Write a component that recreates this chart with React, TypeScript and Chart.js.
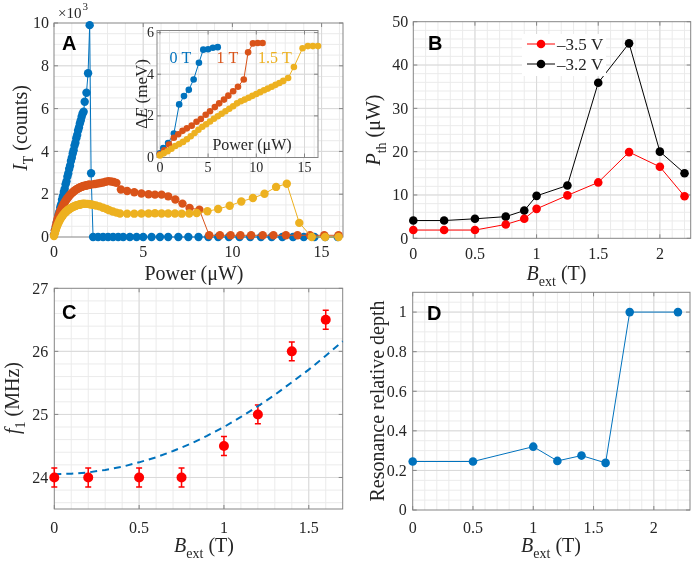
import React, { useEffect, useRef } from 'react';
import { Chart, registerables } from 'chart.js';

Chart.register(...registerables);

const SERIF = '"Liberation Serif", "Times New Roman", serif';
const SANS = '"Liberation Sans", Arial, sans-serif';
const TEXT = '#262626';
const BOX = '#858585';
const GRID_MAJOR = '#d9d9d9';
const GRID_MINOR = '#ebebeb';
const BLUE = '#0072BD';
const ORANGE = '#D95319';
const YELLOW = '#EDB120';
const RED = '#FF0000';

type Pt = [number, number];

// ---- Panel A: transmitted intensity (10^3 counts) vs power (uW) ----
const intensity0T: Pt[] = [
  [0, 0.1], [0.05, 0.3], [0.1, 0.45], [0.15, 0.66], [0.2, 0.8], [0.25, 1.02], [0.3, 1.17], [0.35, 1.38],
  [0.4, 1.52], [0.45, 1.74], [0.5, 1.9], [0.55, 2.1], [0.6, 2.25], [0.65, 2.46], [0.7, 2.6], [0.75, 2.82],
  [0.8, 2.97], [0.85, 3.18], [0.9, 3.33], [0.95, 3.55], [1.0, 3.7], [1.05, 3.9], [1.1, 4.05], [1.15, 4.27],
  [1.2, 4.41], [1.25, 4.62], [1.3, 4.77], [1.35, 4.98], [1.4, 5.12], [1.45, 5.3], [1.5, 5.44], [1.55, 5.62],
  [1.6, 5.76], [1.66, 5.85], [1.72, 6.32], [1.82, 6.74], [1.91, 7.65], [2.0, 9.9], [2.08, 2.98],
  [2.19, 0], [2.47, 0], [2.75, 0], [3.03, 0], [3.31, 0], [3.6, 0], [3.88, 0], [4.25, 0], [4.63, 0],
  [5.0, 0], [5.47, 0], [5.94, 0], [6.4, 0], [6.97, 0], [7.53, 0], [8.1, 0], [8.65, 0], [9.2, 0],
  [9.8, 0], [10.4, 0], [11.0, 0], [11.6, 0], [12.2, 0], [12.8, 0], [13.4, 0], [14.0, 0], [14.6, 0],
  [15.2, 0], [15.9, 0],
];
const intensity1T: Pt[] = [
  [0, 0.1], [0.05, 0.3], [0.1, 0.5], [0.15, 0.68], [0.2, 0.84], [0.25, 0.97], [0.3, 1.1], [0.35, 1.2],
  [0.4, 1.3], [0.45, 1.39], [0.5, 1.47], [0.55, 1.55], [0.6, 1.62], [0.65, 1.69], [0.7, 1.75], [0.75, 1.81],
  [0.8, 1.87], [0.85, 1.92], [0.9, 1.97], [0.95, 2.01], [1.0, 2.05], [1.05, 2.09], [1.1, 2.13], [1.15, 2.16],
  [1.2, 2.19], [1.25, 2.22], [1.3, 2.25], [1.35, 2.27], [1.4, 2.29], [1.45, 2.31], [1.5, 2.33], [1.55, 2.35],
  [1.6, 2.36], [1.65, 2.38], [1.7, 2.39], [1.75, 2.4], [1.8, 2.41], [1.85, 2.42], [1.9, 2.43], [1.95, 2.44],
  [2.0, 2.44], [2.15, 2.46], [2.3, 2.48], [2.45, 2.5], [2.6, 2.52], [2.75, 2.55], [2.9, 2.58], [3.05, 2.61],
  [3.2, 2.59], [3.35, 2.57], [3.5, 2.53], [3.75, 2.22], [4.1, 2.15], [4.5, 2.09], [4.9, 2.03], [5.3, 2.0],
  [5.66, 1.98], [6.03, 1.98], [6.4, 1.9], [6.8, 1.75], [7.2, 1.56], [7.6, 1.36], [8.15, 1.27],
  [8.7, 0.08], [9.3, 0.08], [9.9, 0.08], [10.45, 0.08], [11.05, 0.08], [11.7, 0.08], [12.3, 0.08],
  [13.0, 0.08], [13.65, 0.08], [14.35, 0.08], [15.15, 0.08], [15.95, 0.08],
];
const intensity15T: Pt[] = [
  [0, 0.05], [0.05, 0.18], [0.1, 0.32], [0.15, 0.45], [0.2, 0.56], [0.25, 0.66], [0.3, 0.75], [0.35, 0.83],
  [0.4, 0.9], [0.45, 0.96], [0.5, 1.02], [0.55, 1.07], [0.6, 1.12], [0.65, 1.16], [0.7, 1.2], [0.75, 1.24],
  [0.8, 1.27], [0.85, 1.3], [0.9, 1.33], [0.95, 1.36], [1.0, 1.38], [1.05, 1.4], [1.1, 1.42], [1.15, 1.44],
  [1.2, 1.46], [1.25, 1.47], [1.3, 1.49], [1.35, 1.5], [1.4, 1.51], [1.45, 1.52], [1.5, 1.53], [1.55, 1.54],
  [1.6, 1.55], [1.65, 1.55], [1.7, 1.56], [1.8, 1.55], [1.9, 1.55], [2.0, 1.53], [2.1, 1.52], [2.2, 1.5],
  [2.35, 1.47], [2.55, 1.43], [2.75, 1.37], [2.95, 1.31], [3.1, 1.25], [3.3, 1.19], [3.5, 1.14], [3.7, 1.1],
  [4.1, 1.09], [4.5, 1.09], [4.9, 1.1], [5.3, 1.1], [5.66, 1.11], [6.03, 1.1], [6.4, 1.1], [6.78, 1.1],
  [7.16, 1.09], [7.58, 1.1], [8.0, 1.12], [8.6, 1.2], [9.2, 1.31], [9.85, 1.46], [10.5, 1.66], [11.15, 1.82],
  [11.8, 2.02], [12.45, 2.34], [13.05, 2.49], [13.75, 0.66], [14.45, 0], [15.2, 0], [15.95, 0],
];

// ---- Panel A inset: splitting (meV) vs power (uW) ----
const splitting0T: Pt[] = [
  [0, 0.2], [0.35, 0.45], [0.85, 0.7], [1.45, 1.15], [2.0, 2.55], [2.5, 2.95], [3.0, 3.25], [3.5, 3.75],
  [4.05, 4.55], [4.5, 5.18], [5.0, 5.2], [5.5, 5.27], [6.0, 5.3],
];
const splitting1T: Pt[] = [
  [0, 0.15], [0.45, 0.35], [0.95, 0.62], [1.45, 0.95], [1.9, 1.12], [2.35, 1.28], [2.8, 1.4], [3.3, 1.53],
  [3.8, 1.72], [4.25, 1.85], [4.75, 2.05], [5.2, 2.22], [5.7, 2.42], [6.15, 2.6], [6.65, 2.78], [7.1, 2.97],
  [7.6, 3.18], [8.1, 3.4], [8.7, 3.75], [9.15, 5.05], [9.65, 5.48], [10.15, 5.5], [10.65, 5.5],
];
const splitting15T: Pt[] = [
  [0, 0.1], [0.4, 0.2], [0.8, 0.3], [1.2, 0.42], [1.6, 0.55], [2.0, 0.65], [2.4, 0.75], [2.8, 0.88],
  [3.2, 1.02], [3.6, 1.18], [4.0, 1.33], [4.4, 1.48], [4.8, 1.6], [5.2, 1.73], [5.6, 1.86], [6.0, 1.98],
  [6.4, 2.1], [6.8, 2.22], [7.2, 2.34], [7.6, 2.46], [8.0, 2.6], [8.4, 2.7], [8.8, 2.78], [9.2, 2.87],
  [9.6, 2.96], [10.0, 3.05], [10.4, 3.14], [10.8, 3.23], [11.2, 3.31], [11.6, 3.4], [12.0, 3.49],
  [12.4, 3.58], [12.8, 3.68], [13.3, 3.82], [13.9, 4.35], [14.8, 5.25], [15.35, 5.35], [15.87, 5.35],
  [16.4, 5.35],
];

// ---- Panel B: threshold power vs field ----
const fieldB = [0, 0.25, 0.5, 0.75, 0.9, 1.0, 1.25, 1.5, 1.75, 2.0, 2.2];
const thresholdMinus35 = [1.9, 1.9, 1.9, 3.2, 4.5, 6.8, 9.9, 12.9, 19.9, 16.5, 9.7];
const thresholdMinus32 = [4.1, 4.1, 4.5, 5.0, 6.4, 9.8, 12.2, 35.9, 45, 20, 15];
const legendB = ['–3.5 V', '–3.2 V'];

// ---- Panel C: mechanical frequency vs field ----
const fieldC = [0, 0.2, 0.5, 0.75, 1.0, 1.2, 1.4, 1.6];
const freqC = [24, 24, 24, 24, 24.5, 25, 26, 26.5];
const freqErrC = [0.15, 0.15, 0.15, 0.15, 0.15, 0.15, 0.15, 0.15];
const fitField = [0, 0.1, 0.2, 0.3, 0.4, 0.5, 0.6, 0.7, 0.8, 0.9, 1.0, 1.1, 1.2, 1.3, 1.4, 1.5, 1.6, 1.7];
const fitFreq = [24.05, 24.06, 24.08, 24.12, 24.17, 24.24, 24.32, 24.42, 24.53, 24.66, 24.8, 24.96, 25.13,
  25.31, 25.51, 25.71, 25.93, 26.16];

// ---- Panel D: resonance depth vs field ----
const fieldD = [0, 0.5, 1.0, 1.2, 1.4, 1.6, 1.8, 2.2];
const depthD = [0.245, 0.245, 0.32, 0.248, 0.275, 0.238, 1, 1];

// ---- tick labels ----
const ticksAx = [0, 5, 10, 15];
const ticksAy = [0, 2, 4, 6, 8, 10];
const ticksInsetX = [0, 5, 10, 15];
const ticksInsetY = [0, 2, 4, 6];
const ticksBx = [0, 0.5, 1, 1.5, 2];
const ticksBy = [0, 10, 20, 30, 40, 50];
const ticksCx = [0, 0.5, 1, 1.5];
const ticksCy = [24, 25, 26, 27];
const ticksDx = [0, 0.5, 1, 1.5, 2];
const ticksDy = [0, 0.2, 0.4, 0.6, 0.8, 1];

function steps(from: number, to: number, step: number): number[] {
  const out: number[] = [];
  for (let i = 0; ; i++) {
    const v = +(from + i * step).toFixed(6);
    if (v > to + 1e-9) break;
    out.push(v);
  }
  return out;
}

const pairs = (p: Pt[]) => p.map(([x, y]) => ({ x, y }));
const zip = (xs: number[], ys: number[]) => xs.map((x, i) => ({ x, y: ys[i] }));

type Run = { t: string; it?: boolean; sub?: boolean; sup?: boolean };

function drawRuns(ctx: CanvasRenderingContext2D, runs: Run[], cx: number, cy: number, size: number,
  vertical = false, color = TEXT) {
  const small = Math.round(size * 0.7);
  const fontOf = (r: Run) => `${r.it ? 'italic ' : ''}${r.sub || r.sup ? small : size}px ${SERIF}`;
  let total = 0;
  const widths = runs.map((r) => {
    ctx.font = fontOf(r);
    const w = ctx.measureText(r.t).width;
    total += w;
    return w;
  });
  ctx.save();
  ctx.translate(cx, cy);
  if (vertical) ctx.rotate(-Math.PI / 2);
  ctx.fillStyle = color;
  ctx.textAlign = 'left';
  ctx.textBaseline = 'alphabetic';
  const base = size * 0.33;
  let x = -total / 2;
  runs.forEach((r, i) => {
    ctx.font = fontOf(r);
    const dy = r.sub ? size * 0.3 : r.sup ? -size * 0.45 : 0;
    ctx.fillText(r.t, x, base + dy);
    x += widths[i];
  });
  ctx.restore();
}

function panelLetter(ctx: CanvasRenderingContext2D, s: string, x: number, y: number) {
  ctx.save();
  ctx.font = `bold 20px ${SANS}`;
  ctx.fillStyle = '#000';
  ctx.textAlign = 'left';
  ctx.textBaseline = 'alphabetic';
  ctx.fillText(s, x, y);
  ctx.restore();
}

// pad: x axis -> baseline distance below the plot; y axis -> gap left of the plot
interface AxisSpec { min: number; max: number; major: number[]; minor: number[]; pad: number }
interface PanelSpec {
  width: number;
  height: number;
  area: { left: number; top: number; right: number; bottom: number };
  x: AxisSpec;
  y: AxisSpec;
  tickSize: number;
  fill?: boolean;
  datasets: any[];
  under?: (ctx: CanvasRenderingContext2D, chart: any) => void;
  over?: (ctx: CanvasRenderingContext2D, chart: any) => void;
}

function framePlugin(spec: PanelSpec) {
  const TL = 4;
  return {
    id: 'frame',
    beforeDatasetsDraw(chart: any) {
      const { ctx, chartArea: a } = chart;
      const sx = chart.scales.x;
      const sy = chart.scales.y;
      ctx.save();
      if (spec.fill) {
        ctx.fillStyle = '#ffffff';
        ctx.fillRect(a.left, a.top, a.right - a.left, a.bottom - a.top);
      }
      ctx.lineWidth = 1;
      const vlines = (vals: number[], color: string) => {
        ctx.strokeStyle = color;
        ctx.beginPath();
        vals.forEach((v) => {
          const p = sx.getPixelForValue(v);
          if (p <= a.left + 0.5 || p >= a.right - 0.5) return;
          ctx.moveTo(p, a.top);
          ctx.lineTo(p, a.bottom);
        });
        ctx.stroke();
      };
      const hlines = (vals: number[], color: string) => {
        ctx.strokeStyle = color;
        ctx.beginPath();
        vals.forEach((v) => {
          const p = sy.getPixelForValue(v);
          if (p <= a.top + 0.5 || p >= a.bottom - 0.5) return;
          ctx.moveTo(a.left, p);
          ctx.lineTo(a.right, p);
        });
        ctx.stroke();
      };
      vlines(spec.x.minor, GRID_MINOR);
      hlines(spec.y.minor, GRID_MINOR);
      vlines(spec.x.major, GRID_MAJOR);
      hlines(spec.y.major, GRID_MAJOR);
      ctx.strokeStyle = BOX;
      ctx.strokeRect(a.left, a.top, a.right - a.left, a.bottom - a.top);
      ctx.beginPath();
      spec.x.major.forEach((v) => {
        const p = sx.getPixelForValue(v);
        ctx.moveTo(p, a.bottom); ctx.lineTo(p, a.bottom - TL);
        ctx.moveTo(p, a.top); ctx.lineTo(p, a.top + TL);
      });
      spec.y.major.forEach((v) => {
        const p = sy.getPixelForValue(v);
        ctx.moveTo(a.left, p); ctx.lineTo(a.left + TL, p);
        ctx.moveTo(a.right, p); ctx.lineTo(a.right - TL, p);
      });
      ctx.stroke();
      if (spec.under) spec.under(ctx, chart);
      ctx.restore();
    },
    afterDraw(chart: any) {
      const { ctx, chartArea: a } = chart;
      const sx = chart.scales.x;
      const sy = chart.scales.y;
      ctx.save();
      // tick labels from the scales' own ticks
      ctx.font = `${spec.tickSize}px ${SERIF}`;
      ctx.fillStyle = TEXT;
      ctx.textBaseline = 'alphabetic';
      ctx.textAlign = 'center';
      sx.ticks.forEach((t: any, i: number) => {
        ctx.fillText(String(t.value), sx.getPixelForTick(i), a.bottom + spec.x.pad);
      });
      ctx.textAlign = 'right';
      sy.ticks.forEach((t: any, i: number) => {
        ctx.fillText(String(t.value), a.left - spec.y.pad, sy.getPixelForTick(i) + spec.tickSize * 0.33);
      });
      if (spec.over) spec.over(ctx, chart);
      ctx.restore();
    },
  };
}

function makeChart(canvas: HTMLCanvasElement, spec: PanelSpec) {
  const { area, width, height } = spec;
  const scale = (ax: AxisSpec, horizontal: boolean) => ({
    type: 'linear',
    min: ax.min,
    max: ax.max,
    afterBuildTicks: (s: any) => { s.ticks = ax.major.map((v) => ({ value: v })); },
    afterFit: (s: any) => {
      if (horizontal) s.height = height - area.bottom;
      else s.width = area.left;
    },
    grid: { display: false, drawTicks: false },
    border: { display: false },
    ticks: { display: false },
  });
  return new Chart(canvas, {
    type: 'scatter',
    data: { datasets: spec.datasets },
    options: {
      animation: false,
      responsive: false,
      maintainAspectRatio: false,
      devicePixelRatio: 1,
      events: [],
      layout: { padding: { left: 0, top: area.top, right: width - area.right, bottom: 0 } },
      plugins: { legend: { display: false }, tooltip: { enabled: false } },
      scales: { x: scale(spec.x, true) as any, y: scale(spec.y, false) as any },
    } as any,
    plugins: [framePlugin(spec) as any],
  });
}

const series = (data: any[], color: string, radius: number, order: number, extra: any = {}) => ({
  data,
  showLine: true,
  borderColor: color,
  backgroundColor: color,
  borderWidth: 1,
  pointRadius: radius,
  pointBorderWidth: 0,
  pointBackgroundColor: color,
  clip: false,
  order,
  ...extra,
});

// Canvas placements on the page
const BOX_A = { left: 0, top: 0, width: 349, height: 290 };
const BOX_INSET = { left: 110, top: 20, width: 215, height: 160 };
const BOX_B = { left: 349, top: 0, width: 349, height: 290 };
const BOX_C = { left: 0, top: 274, width: 349, height: 287 };
const BOX_D = { left: 349, top: 274, width: 349, height: 287 };

function specA(): PanelSpec {
  return {
    width: BOX_A.width, height: BOX_A.height,
    area: { left: 54, top: 23, right: 343, bottom: 237 },
    x: { min: 0, max: 16.2, major: ticksAx, minor: steps(0, 16, 1), pad: 20 },
    y: { min: 0, max: 10, major: ticksAy, minor: steps(0, 10, 0.5), pad: 5 },
    tickSize: 16,
    datasets: [
      series(pairs(intensity0T), BLUE, 4.2, 3),
      series(pairs(intensity1T), ORANGE, 4.2, 2),
      series(pairs(intensity15T), YELLOW, 4.2, 1),
    ],
    over: (ctx) => {
      drawRuns(ctx, [{ t: 'I', it: true }, { t: 'T', sub: true }, { t: ' (counts)' }], 20, 128, 20, true);
      drawRuns(ctx, [{ t: 'Power (μW)' }], 194, 273, 20);
      ctx.fillStyle = TEXT;
      ctx.textAlign = 'left';
      ctx.textBaseline = 'alphabetic';
      ctx.font = `15px ${SERIF}`;
      ctx.fillText('×10', 58, 18);
      ctx.font = `11px ${SERIF}`;
      ctx.fillText('3', 82.5, 10);
      panelLetter(ctx, 'A', 62, 50);
    },
  };
}

function specInset(): PanelSpec {
  const ox = BOX_INSET.left;
  const oy = BOX_INSET.top;
  return {
    width: BOX_INSET.width, height: BOX_INSET.height,
    area: { left: 157 - ox, top: 30.5 - oy, right: 318 - ox, bottom: 157.5 - oy },
    x: { min: -0.3, max: 16.4, major: ticksInsetX, minor: steps(0, 16, 1), pad: 14 },
    y: { min: 0, max: 6.1, major: ticksInsetY, minor: steps(0, 6, 0.5), pad: 3 },
    tickSize: 14,
    fill: true,
    datasets: [
      series(pairs(splitting0T), BLUE, 3.3, 3),
      series(pairs(splitting1T), ORANGE, 3.3, 2),
      series(pairs(splitting15T), YELLOW, 3.3, 1),
    ],
    over: (ctx) => {
      drawRuns(ctx, [{ t: 'Δ' }, { t: 'E', it: true }, { t: ' (meV)' }], 141 - ox, 94 - oy, 17, true);
      drawRuns(ctx, [{ t: 'Power (μW)' }], 252 - ox, 145 - oy, 16);
      drawRuns(ctx, [{ t: '0 T' }], 180.5 - ox, 58 - oy, 16, false, BLUE);
      drawRuns(ctx, [{ t: '1 T' }], 227.5 - ox, 58 - oy, 16, false, ORANGE);
      drawRuns(ctx, [{ t: '1.5 T' }], 275 - ox, 58 - oy, 16, false, YELLOW);
    },
  };
}

function specB(): PanelSpec {
  const ox = BOX_B.left;
  return {
    width: BOX_B.width, height: BOX_B.height,
    area: { left: 413.3 - ox, top: 21.7, right: 690.7 - ox, bottom: 238.3 },
    x: { min: 0, max: 2.25, major: ticksBx, minor: steps(0, 2.2, 0.1), pad: 21 },
    y: { min: 0, max: 50, major: ticksBy, minor: steps(0, 50, 2), pad: 5 },
    tickSize: 16,
    datasets: [
      series(zip(fieldB, thresholdMinus35), RED, 4.3, 1),
      series(zip(fieldB, thresholdMinus32), '#000000', 4.3, 2),
    ],
    over: (ctx) => {
      drawRuns(ctx, [{ t: 'P', it: true }, { t: 'th', sub: true }, { t: ' (μW)' }], 373 - ox, 130, 20, true);
      drawRuns(ctx, [{ t: 'B', it: true }, { t: 'ext', sub: true }, { t: ' (T)' }], 556.5 - ox, 273, 20);
      ctx.fillStyle = '#ffffff';
      ctx.fillRect(522 - ox, 34, 84, 42);
      const colors = [RED, '#000000'];
      legendB.forEach((label, i) => {
        const y = 44 + i * 20;
        ctx.strokeStyle = colors[i];
        ctx.lineWidth = 1;
        ctx.beginPath();
        ctx.moveTo(527 - ox, y);
        ctx.lineTo(555 - ox, y);
        ctx.stroke();
        ctx.fillStyle = colors[i];
        ctx.beginPath();
        ctx.arc(541 - ox, y, 4.3, 0, Math.PI * 2);
        ctx.fill();
        ctx.fillStyle = TEXT;
        ctx.font = `17px ${SERIF}`;
        ctx.textAlign = 'left';
        ctx.textBaseline = 'alphabetic';
        ctx.fillText(label, 557 - ox, y + 5.5);
      });
      panelLetter(ctx, 'B', 428 - ox, 50);
    },
  };
}

function specC(): PanelSpec {
  const oy = BOX_C.top;
  return {
    width: BOX_C.width, height: BOX_C.height,
    area: { left: 54.3, top: 288.3 - oy, right: 342.7, bottom: 509 - oy },
    x: { min: 0, max: 1.7, major: ticksCx, minor: steps(0, 1.7, 0.1), pad: 23.5 },
    y: { min: 23.5, max: 27, major: ticksCy, minor: steps(23.6, 27, 0.2), pad: 6 },
    tickSize: 16,
    datasets: [
      series(zip(fieldC, freqC), RED, 5, 1, { showLine: false }),
      series(zip(fitField, fitFreq), BLUE, 0, 2, { borderWidth: 2, borderDash: [7, 5] }),
    ],
    under: (ctx, chart) => {
      const sx = chart.scales.x;
      const sy = chart.scales.y;
      ctx.strokeStyle = RED;
      ctx.lineWidth = 1.5;
      ctx.beginPath();
      fieldC.forEach((b, i) => {
        const px = sx.getPixelForValue(b);
        const top = sy.getPixelForValue(freqC[i] + freqErrC[i]);
        const bot = sy.getPixelForValue(freqC[i] - freqErrC[i]);
        ctx.moveTo(px, top); ctx.lineTo(px, bot);
        ctx.moveTo(px - 3, top); ctx.lineTo(px + 3, top);
        ctx.moveTo(px - 3, bot); ctx.lineTo(px + 3, bot);
      });
      ctx.stroke();
    },
    over: (ctx) => {
      drawRuns(ctx, [{ t: 'f', it: true }, { t: '1', sub: true }, { t: ' (MHz)' }], 12.5, 398 - oy, 20, true);
      drawRuns(ctx, [{ t: 'B', it: true }, { t: 'ext', sub: true }, { t: ' (T)' }], 204, 545 - oy, 20);
      panelLetter(ctx, 'C', 62, 319 - oy);
    },
  };
}

function specD(): PanelSpec {
  const ox = BOX_D.left;
  const oy = BOX_D.top;
  return {
    width: BOX_D.width, height: BOX_D.height,
    area: { left: 412.7 - ox, top: 292.3 - oy, right: 690 - ox, bottom: 510 - oy },
    x: { min: 0, max: 2.3, major: ticksDx, minor: steps(0, 2.3, 0.1), pad: 23 },
    y: { min: 0, max: 1.1, major: ticksDy, minor: steps(0, 1.1, 0.05), pad: 6 },
    tickSize: 16,
    datasets: [series(zip(fieldD, depthD), BLUE, 4.3, 1)],
    over: (ctx) => {
      drawRuns(ctx, [{ t: 'Resonance relative depth' }], 377 - ox, 401 - oy, 20, true);
      drawRuns(ctx, [{ t: 'B', it: true }, { t: 'ext', sub: true }, { t: ' (T)' }], 551 - ox, 545 - oy, 20);
      panelLetter(ctx, 'D', 427 - ox, 320 - oy);
    },
  };
}

const placed = (b: { left: number; top: number; width: number; height: number }): React.CSSProperties => ({
  position: 'absolute', left: b.left, top: b.top, width: b.width, height: b.height,
});

export default function App() {
  const refA = useRef<HTMLCanvasElement>(null);
  const refInset = useRef<HTMLCanvasElement>(null);
  const refB = useRef<HTMLCanvasElement>(null);
  const refC = useRef<HTMLCanvasElement>(null);
  const refD = useRef<HTMLCanvasElement>(null);

  useEffect(() => {
    const charts: Chart[] = [];
    const build: [React.RefObject<HTMLCanvasElement | null>, () => PanelSpec][] = [
      [refA, specA], [refInset, specInset], [refB, specB], [refC, specC], [refD, specD],
    ];
    build.forEach(([ref, make]) => {
      if (ref.current) charts.push(makeChart(ref.current, make()));
    });
    return () => charts.forEach((c) => c.destroy());
  }, []);

  return (
    <div style={{ position: 'fixed', left: 0, top: 0, width: 698, height: 561, background: '#ffffff', overflow: 'hidden' }}>
      <canvas ref={refA} width={BOX_A.width} height={BOX_A.height} style={placed(BOX_A)} />
      <canvas ref={refB} width={BOX_B.width} height={BOX_B.height} style={placed(BOX_B)} />
      <canvas ref={refC} width={BOX_C.width} height={BOX_C.height} style={placed(BOX_C)} />
      <canvas ref={refD} width={BOX_D.width} height={BOX_D.height} style={placed(BOX_D)} />
      <canvas ref={refInset} width={BOX_INSET.width} height={BOX_INSET.height} style={placed(BOX_INSET)} />
    </div>
  );
}
